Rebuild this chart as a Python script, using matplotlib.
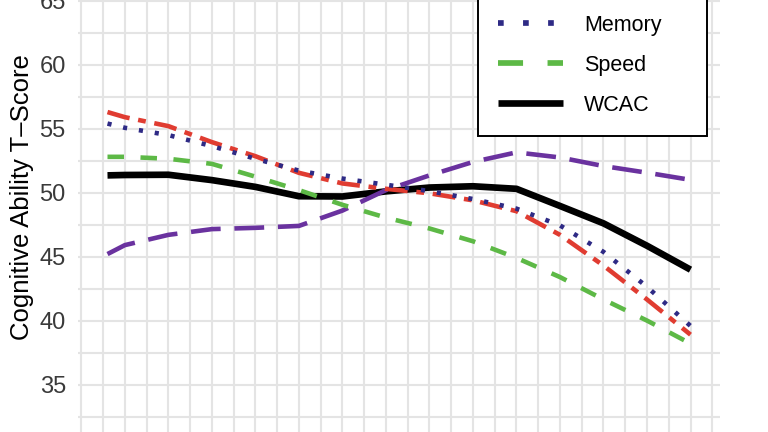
import matplotlib.pyplot as plt
from matplotlib.lines import Line2D
import numpy as np

plt.rcParams['font.family'] = ['Liberation Sans', 'DejaVu Sans']

# age groups (x axis is cropped off in the reference)
ages = [23, 25, 30, 35, 40, 45, 50, 55, 60, 65, 70, 75, 80, 85, 90]

# T-score by domain
language = [45.2, 45.9, 46.7, 47.15, 47.25, 47.4, 48.6, 50.2, 51.35, 52.4, 53.15, 52.75, 52.08, 51.56, 51.0]
reasoning = [56.3, 55.9, 55.2, 53.95, 52.85, 51.55, 50.72, 50.3, 49.95, 49.4, 48.55, 46.7, 44.3, 41.65, 38.9]
memory = [55.4, 55.07, 54.5, 53.64, 52.65, 51.72, 51.1, 50.62, 50.12, 49.5, 48.75, 47.44, 45.37, 42.64, 39.58]
speed = [52.8, 52.8, 52.65, 52.25, 51.25, 50.2, 49.05, 48.05, 47.2, 46.2, 44.9, 43.4, 41.65, 40.0, 38.2]
wcac = [51.35, 51.38, 51.4, 50.98, 50.45, 49.72, 49.7, 50.1, 50.4, 50.5, 50.3, 48.96, 47.6, 45.85, 43.98]

labels = ['Language', 'Reasoning', 'Memory', 'Speed', 'WCAC']
colors = ['#6a329f', '#e03c31', '#2e2a85', '#5db946', '#000000']

W, H = 768, 432
fig = plt.figure(figsize=(W / 100, H / 100), dpi=100)
# panel spans past the top and bottom of the picture (cropped figure)
ax = fig.add_axes([78.35 / W, 0, (719.65 - 78.35) / W, 1])
ax.set_xlim(19.65, 93.35)
ax.set_ylim(31.29, 65.06)

ax.set_xticks(np.arange(20, 93, 5))
ax.set_xticks(np.arange(22.5, 93, 5), minor=True)
ax.set_yticks(np.arange(35, 66, 5))
ax.set_yticks(np.arange(32.5, 66, 5), minor=True)
ax.grid(True, which='both', color='#e4e4e4', lw=1.5)
ax.set_axisbelow(True)
for s in ax.spines.values():
    s.set_visible(False)
ax.tick_params(which='both', length=0)
ax.tick_params(axis='x', labelbottom=False)
ax.tick_params(axis='y', labelsize=17, labelcolor='#3a3a3a', pad=9)

# draw order: WCAC at the bottom, memory dots on top
ax.plot(ages, wcac, color=colors[4], lw=4.8, solid_capstyle='butt', zorder=2)
ax.plot(ages, language, color=colors[0], lw=3.3, dashes=(6.5, 3.0), dash_capstyle='butt', zorder=3)
ax.plot(ages, reasoning, color=colors[1], lw=3.3, dashes=(5.0, 1.9, 1.7, 1.9), dash_capstyle='butt', zorder=4)
ax.plot(ages, speed, color=colors[3], lw=3.3, dashes=(3.6, 3.6), dash_capstyle='butt', zorder=5)
ax.plot(ages, memory, color=colors[2], lw=3.3, dashes=(0.9, 2.6), dash_capstyle='butt', zorder=6)

fig.text(22 / W, 1 - 197 / H, 'Cognitive Ability T–Score', rotation=90,
         ha='center', va='center', fontsize=18.5, color='black')

handles = [
    Line2D([], [], color=colors[0], lw=4.1, dashes=(6.5, 3.0), dash_capstyle='butt'),
    Line2D([], [], color=colors[1], lw=4.1, dashes=(5.0, 1.9, 1.7, 1.9), dash_capstyle='butt'),
    Line2D([], [], color=colors[2], lw=4.1, dashes=(1, 3.4), dash_capstyle='butt'),
    Line2D([], [], color=colors[3], lw=4.1, dashes=(4.4, 4.3), dash_capstyle='butt'),
    Line2D([], [], color=colors[4], lw=4.8, solid_capstyle='butt'),
]
leg = fig.legend(handles, labels, loc='lower right',
                 bbox_to_anchor=(707 / W, 1 - 136 / H), bbox_transform=fig.transFigure,
                 fontsize=15.5, frameon=True, fancybox=False, borderpad=0.95,
                 handlelength=3.0, handletextpad=1.0, labelspacing=0.88, borderaxespad=0)
leg.get_frame().set_edgecolor('black')
leg.get_frame().set_linewidth(1.4)
leg.get_frame().set_alpha(1)

fig.savefig('out.png', dpi=100)
